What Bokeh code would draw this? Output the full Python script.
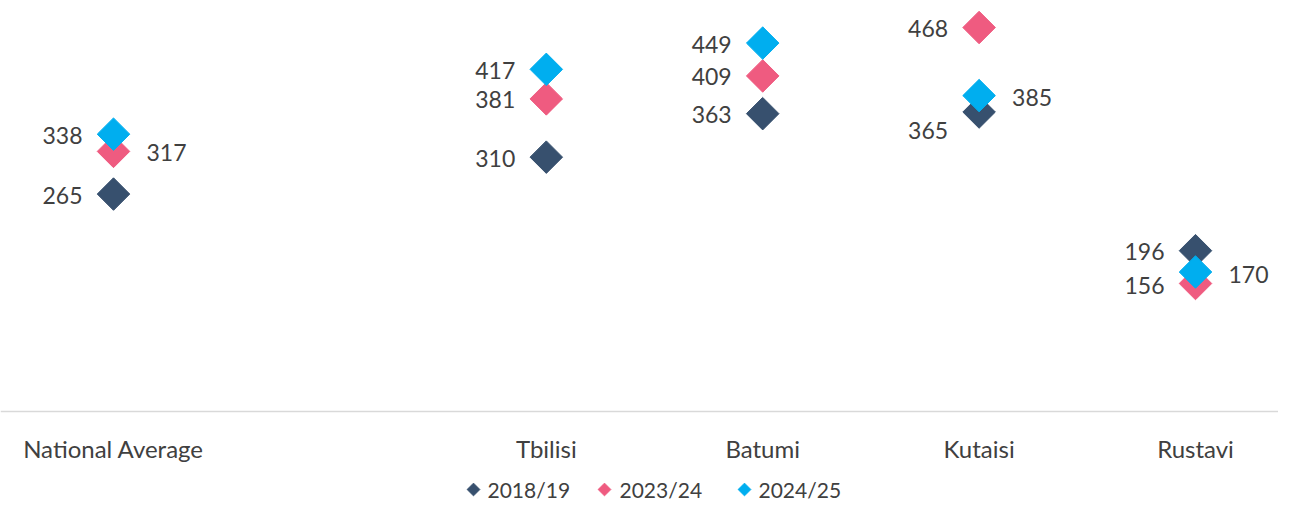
import numpy as np
from bokeh.plotting import figure
from bokeh.models import ColumnDataSource, Range1d, Span
from bokeh.core.properties import value
from bokeh.embed import file_html
from bokeh.resources import INLINE

# ---- data ----
categories = ["National Average", "Tbilisi", "Batumi", "Kutaisi", "Rustavi"]
series_names = ["2018/19", "2023/24", "2024/25"]
v2018_19 = [265, 310, 363, 365, 196]
v2023_24 = [317, 381, 409, 468, 156]
v2024_25 = [338, 417, 449, 385, 170]

# ---- layout / style ----
slots = [0, 2, 3, 4, 5]          # slot 1 is an empty gap
colors = ["#37506E", "#EF5B80", "#00AEEF"]
FONT = "Lato"
TXT = "#404040"
W, H = 1278, 501
AXIS_PX = 411                    # pixel row (from frame top) of value 0
PX_PER_UNIT = 0.8205
SLOT_PX = 216.4
FIRST_SLOT_PX = 113              # pixel column of slot 0 from frame left

# label placement per series: side ('L'/'R') and vertical pixel shift
sides = [
    ["L", "L", "L", "L", "L"],
    ["R", "L", "L", "L", "L"],
    ["L", "L", "L", "R", "R"],
]
shifts = [
    [1, 1, 1, 18, 1],
    [1, 1, 1, 1, 2],
    [1, 1, 1, 2, 2],
]
legend_px = [(473, 487), (604, 619), (744, 758)]   # (marker centre, text start) in frame px
LEGEND_ROW = 489                                     # frame px row of legend

x0 = -FIRST_SLOT_PX / SLOT_PX
x1 = x0 + W / SLOT_PX
y1 = AXIS_PX / PX_PER_UNIT
y0 = -(H - AXIS_PX) / PX_PER_UNIT


def px_to_x(px):
    return x0 + px / SLOT_PX


def px_to_y(py):
    return y1 - py / PX_PER_UNIT


p = figure(frame_width=W, frame_height=H, output_backend="svg", toolbar_location=None,
           x_range=Range1d(x0, x1), y_range=Range1d(y0, y1),
           min_border_left=0, min_border_right=0, min_border_top=0, min_border_bottom=0)
p.outline_line_color = None
p.grid.visible = False
p.axis.visible = False
p.background_fill_color = "white"

# baseline (category axis line)
p.add_layout(Span(location=0, dimension="width", line_color="#D9D9D9", line_width=1.5))

# category labels
p.text(x=slots, y=[0] * len(slots), text=categories, y_offset=37,
       text_align="center", text_baseline="middle", text_font=value(FONT),
       text_font_size="24px", text_color=TXT)

all_vals = [v2018_19, v2023_24, v2024_25]
for vals, col in zip(all_vals, colors):
    src = ColumnDataSource(dict(x=slots, y=vals))
    p.scatter("x", "y", source=src, marker="square", angle=np.pi / 4, size=23,
              fill_color=col, line_color=col)

for vals, sd, sh in zip(all_vals, sides, shifts):
    src = ColumnDataSource(dict(
        x=slots, y=vals, t=[str(v) for v in vals],
        align=["right" if s == "L" else "left" for s in sd],
        xo=[-31 if s == "L" else 33 for s in sd],
        yo=sh))
    p.text("x", "y", text="t", source=src, text_align="align", x_offset="xo", y_offset="yo",
           text_baseline="middle", text_font=value(FONT), text_font_size="23px", text_color=TXT)

# legend (drawn manually so the markers keep their diamond shape)
ly = px_to_y(LEGEND_ROW)
for name, col, (mx, tx) in zip(series_names, colors, legend_px):
    p.scatter([px_to_x(mx)], [ly], marker="square", angle=np.pi / 4, size=9,
              fill_color=col, line_color=col)
    p.text([px_to_x(tx)], [ly], text=[name], text_align="left", text_baseline="middle",
           text_font=value(FONT), text_font_size="21px", text_color=TXT)

open("out.html", "w").write(file_html(p, INLINE))
